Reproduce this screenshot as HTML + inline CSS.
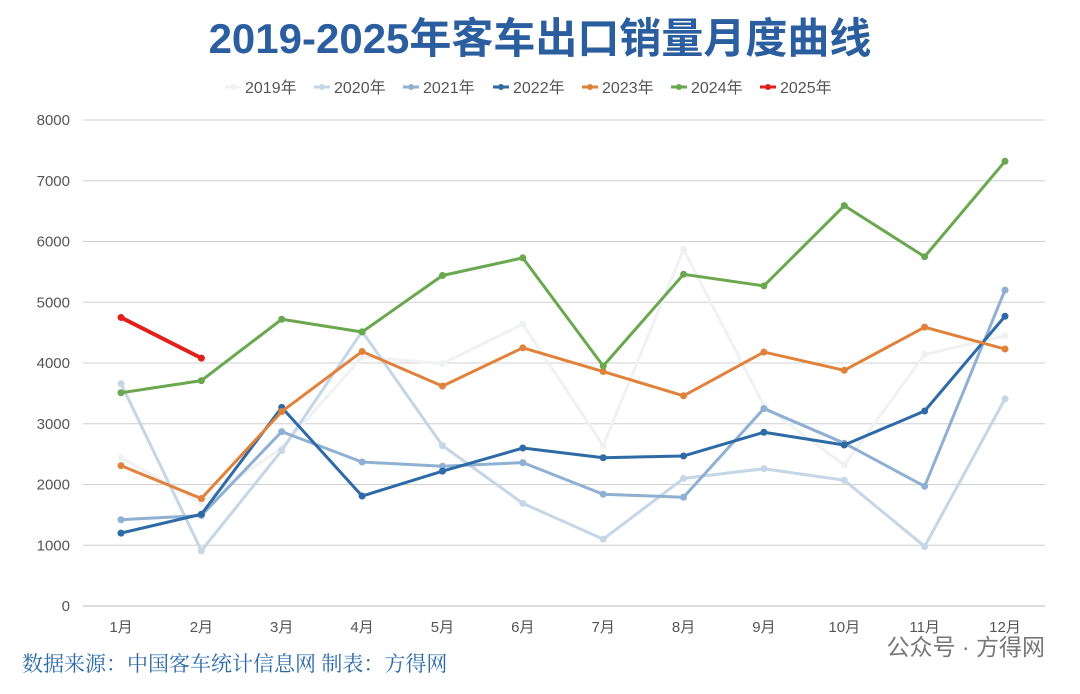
<!DOCTYPE html>
<html><head><meta charset="utf-8"><style>
body{margin:0;background:#fff;width:1080px;height:689px;overflow:hidden;font-family:"Liberation Sans","Noto Sans CJK SC",sans-serif}
</style></head><body>
<svg id="c" width="1080" height="689" xmlns="http://www.w3.org/2000/svg">
<text x="540" y="53" text-anchor="middle" font-size="42" font-weight="bold" fill="#2b5e9e" font-family="Liberation Sans,Noto Sans CJK SC,sans-serif">2019-2025年客车出口销量月度曲线</text>
<g id="grid"></g><g id="series"></g><g id="legend"></g>
<text x="22" y="671" font-size="21" fill="#2b6aa8" font-family="Noto Serif CJK SC,serif">数据来源：中国客车统计信息网 制表：方得网</text>
<text x="1045" y="655" text-anchor="end" font-size="23" fill="#777" font-family="Liberation Sans,Noto Sans CJK SC,sans-serif">公众号 · 方得网</text>
</svg>
<script>
const months=["1月","2月","3月","4月","5月","6月","7月","8月","9月","10月","11月","12月"];
const yTicks=[0,1000,2000,3000,4000,5000,6000,7000,8000];
const seriesNames=["2019年","2020年","2021年","2022年","2023年","2024年","2025年"];
const s2019=[2440,1700,2600,4100,3990,4640,2640,5870,3300,2320,4140,4450];
const s2020=[3660,910,2560,4520,2640,1690,1100,2100,2260,2070,980,3410];
const s2021=[1420,1490,2870,2370,2300,2360,1840,1790,3250,2680,1970,5200];
const s2022=[1200,1510,3270,1810,2220,2600,2440,2470,2860,2650,3210,4770];
const s2023=[2310,1770,3200,4190,3620,4250,3860,3460,4180,3880,4590,4230];
const s2024=[3510,3710,4720,4510,5440,5730,3950,5460,5270,6590,5750,7320];
const s2025=[4750,4080];
const allSeries=[s2019,s2020,s2021,s2022,s2023,s2024,s2025];
const colors=["#f0f1f3","#c5d6e6","#8fb0d3","#2e6aa5","#e0823c","#6aa84f","#e0201b"];
const NS="http://www.w3.org/2000/svg";
const x=i=>121+i*(1005-121)/11;
const y=v=>606-v*(606-120)/8000;
function mk(t,a,p){const e=document.createElementNS(NS,t);for(const k in a)e.setAttribute(k,a[k]);p.appendChild(e);return e;}
const g=document.getElementById('grid');
yTicks.forEach(v=>{
 const l=mk('line',{x1:83,x2:1045,y1:y(v),y2:y(v),stroke:v==0?'#bbb':'#d0d0d0','stroke-width':1},g);
 
 
 const t=mk('text',{x:70,y:y(v)+5,'text-anchor':'end','font-size':15,fill:'#555'},g);t.textContent=v;
 
 
});
months.forEach((m,i)=>{
 const t=mk('text',{x:x(i),y:632,'text-anchor':'middle','font-size':15,fill:'#555'},g);t.textContent=m;
 
 
});
const sg=document.getElementById('series');
allSeries.forEach((d,k)=>{
 const p=mk('polyline',{points:d.map((v,i)=>x(i)+','+y(v)).join(' '),fill:'none',stroke:colors[k],'stroke-width':k==6?4:3,'stroke-linejoin':'round'},sg);
 
 
 d.forEach((v,i)=>{const c=mk('circle',{cx:x(i),cy:y(v),r:3.5,fill:colors[k]},sg);
  
  });
});
const lg=document.getElementById('legend');
const lx=[245,334,423,513,602,691,780];
seriesNames.forEach((n,k)=>{
 const e=mk('g',{},lg);
 
 
 mk('line',{x1:lx[k]-20,x2:lx[k]-4,y1:87,y2:87,stroke:colors[k],'stroke-width':3},e);
 mk('circle',{cx:lx[k]-12,cy:87,r:3,fill:colors[k]},e);
 const t=mk('text',{x:lx[k],y:93,'font-size':16,fill:'#555'},e);t.textContent=n;
});
</script>
</body></html>
